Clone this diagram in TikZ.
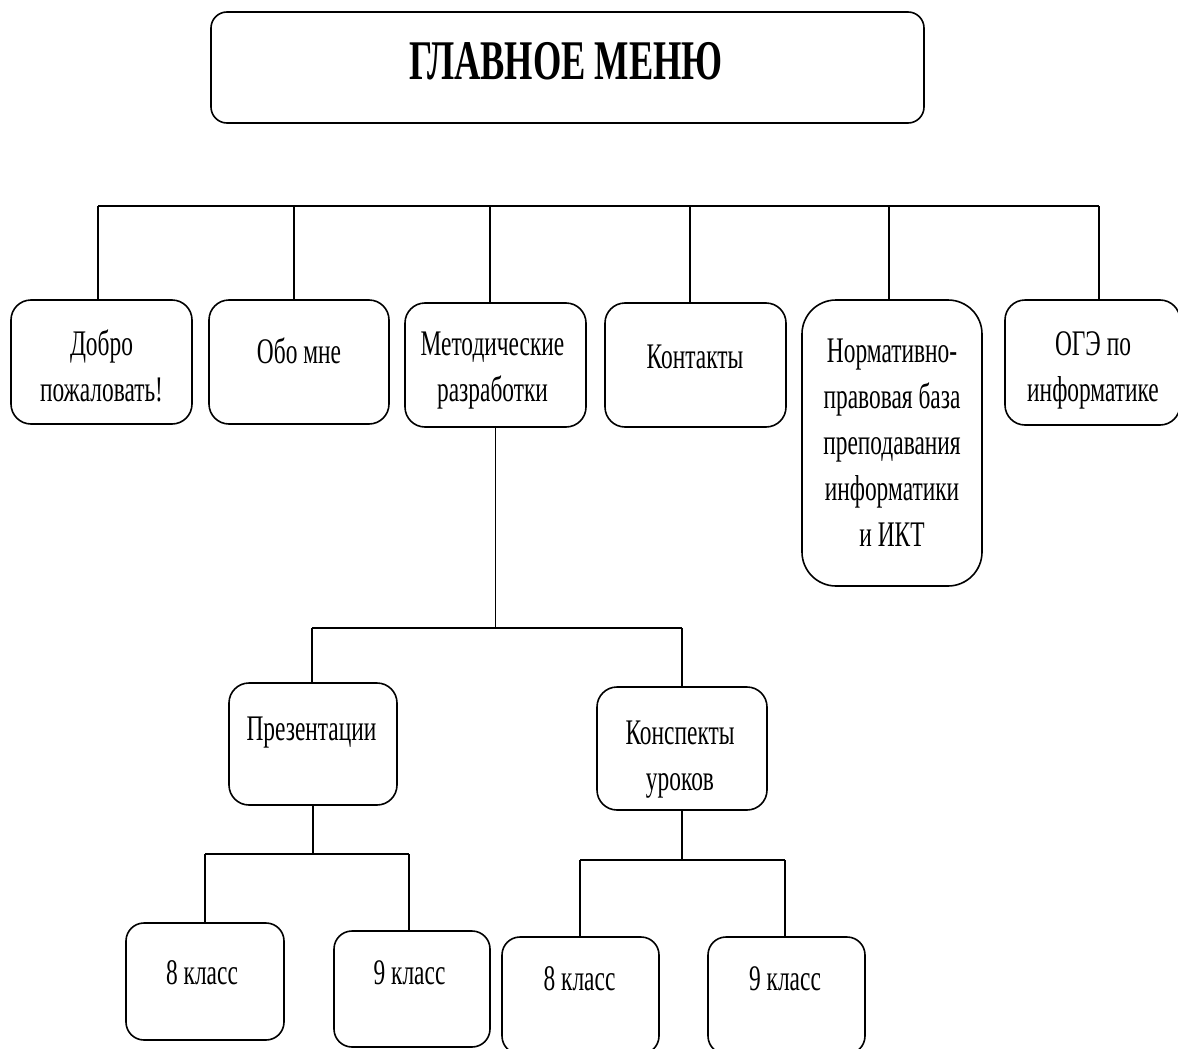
\documentclass[tikz,border=0pt]{standalone}
\usepackage{fontspec}
\setmainfont{Liberation Serif}[FakeStretch=0.65]
\begin{document}
\begin{tikzpicture}[x=1pt,y=-1pt,
  box/.style={draw=black, line width=1.6pt, rounded corners=#1, inner sep=0pt},
  box/.default=20pt,
  lbl/.style={font=\fontsize{36}{46}\selectfont, align=center, inner sep=0pt},
  conn/.style={draw=black, line width=1.3pt},
]
\useasboundingbox (0,0) rectangle (1178,1049);

% title
\node[box=16pt, minimum width=713pt, minimum height=111pt] (title) at (567.5,67.5) {};
\node[inner sep=0pt, font=\fontsize{56}{60}\selectfont\bfseries] (titletxt) at (566,61) {ГЛАВНОЕ МЕНЮ};

% level 1 boxes
\node[box, minimum width=181pt, minimum height=124pt] (b1) at (101.5,362) {};
\node[box, minimum width=180pt, minimum height=124pt] (b2) at (299,362) {};
\node[box, minimum width=181pt, minimum height=124pt] (b3) at (495.5,365) {};
\node[box, minimum width=181pt, minimum height=124pt] (b4) at (695.5,365) {};
\node[box=34pt, minimum width=180pt, minimum height=286pt] (b5) at (892,443) {};
\node[box, minimum width=175pt, minimum height=125pt] (b6) at (1092.5,362.5) {};

\node[lbl] (l1) at (101.5,366) {Добро\\пожаловать!};
\node[lbl] (l2) at (299,351) {Обо мне};
\node[lbl] (l3) at (492.5,371) {Методические\\разработки};
\node[lbl] (l4) at (695,357) {Контакты};
\node[lbl] (l5) at (892,443) {Нормативно-\\правовая база\\преподавания\\информатики\\и ИКТ};
\node[lbl] (l6) at (1093,370) {ОГЭ по\\информатике};

% level 2 boxes
\node[box, minimum width=168pt, minimum height=122pt] (pres) at (313,744) {};
\node[box, minimum width=170pt, minimum height=123pt] (kons) at (682,748.5) {};
\node[lbl] (lp) at (311.5,733) {Презентации};
\node[lbl] (lk) at (680,760) {Конспекты\\уроков};

% level 3 boxes
\node[box=18pt, minimum width=158pt, minimum height=117pt] (p8) at (205,981.5) {};
\node[box=18pt, minimum width=156pt, minimum height=116pt] (p9) at (412,989) {};
\node[box=18pt, minimum width=157pt, minimum height=117pt] (k8) at (580.5,995.5) {};
\node[box=18pt, minimum width=157pt, minimum height=117pt] (k9) at (786.5,995.5) {};
\node[lbl] (lp8) at (202,972.5) {8 класс};
\node[lbl] (lp9) at (409.5,972.5) {9 класс};
\node[lbl] (lk8) at (579.5,978.5) {8 класс};
\node[lbl] (lk9) at (785,978.5) {9 класс};

% top bus
\coordinate (t1) at (98,206);
\coordinate (t2) at (294,206);
\coordinate (t3) at (490,206);
\coordinate (t4) at (690,206);
\coordinate (t5) at (889,206);
\coordinate (t6) at (1099,206);
\draw[conn] (t1) -- (t6);
\draw[conn] (t1) -- (t1 |- b1.north);
\draw[conn] (t2) -- (t2 |- b2.north);
\draw[conn] (t3) -- (t3 |- b3.north);
\draw[conn] (t4) -- (t4 |- b4.north);
\draw[conn] (t5) -- (t5 |- b5.north);
\draw[conn] (t6) -- (t6 |- b6.north);

% middle bus
\coordinate (ml) at (312,628);
\coordinate (mr) at (682,628);
\draw[conn] (b3.south) -- (b3.south |- ml);
\draw[conn] (ml) -- (mr);
\draw[conn] (ml) -- (ml |- pres.north);
\draw[conn] (mr) -- (mr |- kons.north);

% presentation bus
\coordinate (pl) at (205,854);
\coordinate (pr) at (409,854);
\draw[conn] (pres.south) -- (pres.south |- pl);
\draw[conn] (pl) -- (pr);
\draw[conn] (pl) -- (pl |- p8.north);
\draw[conn] (pr) -- (pr |- p9.north);

% konspekty bus
\coordinate (kl) at (580,860);
\coordinate (kr) at (785,860);
\draw[conn] (kons.south) -- (kons.south |- kl);
\draw[conn] (kl) -- (kr);
\draw[conn] (kl) -- (kl |- k8.north);
\draw[conn] (kr) -- (kr |- k9.north);
\end{tikzpicture}
\end{document}
